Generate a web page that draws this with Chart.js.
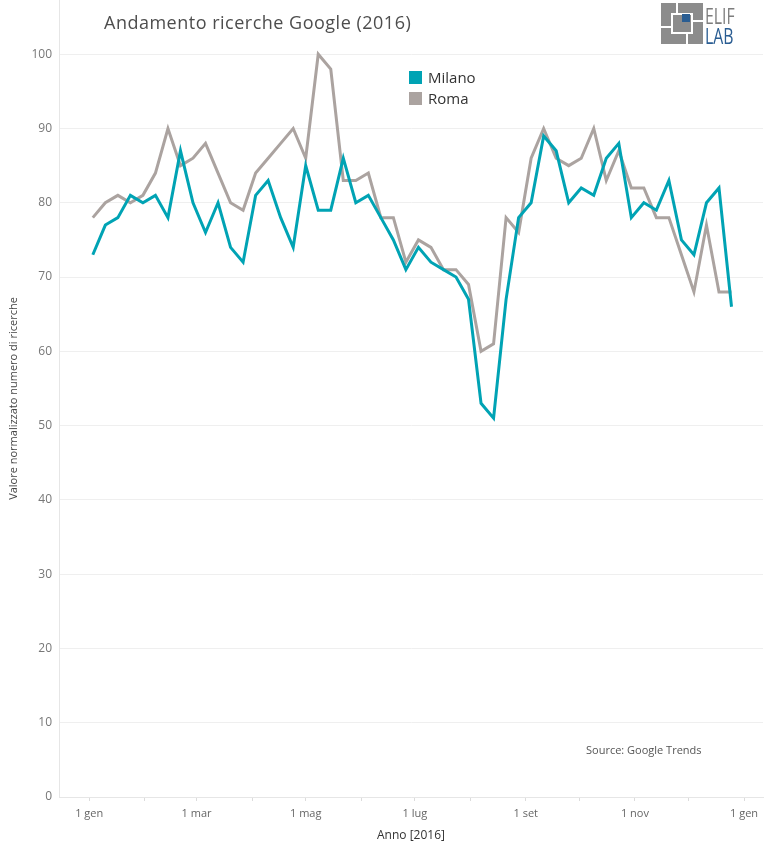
<!DOCTYPE html>
<html>
<head>
<meta charset="utf-8">
<script src="https://cdn.jsdelivr.net/npm/chart.js@4.4.0/dist/chart.umd.min.js"></script>
<style>
  html, body { margin: 0; padding: 0; background: #fff; }
  #wrap { position: relative; width: 766px; height: 852px; font-family: "Open Sans", sans-serif; }
  #chart { position: absolute; left: 0; top: 0; }
  .title { position: absolute; left: 104px; top: 9px; font-size: 18px; letter-spacing: 0.5px; line-height: 26px; color: #4d4d4d; white-space: nowrap; }
  .legend { position: absolute; left: 409px; top: 67px; }
  .legend .item { height: 21px; line-height: 21px; font-size: 15px; color: #333; white-space: nowrap; }
  .legend .sw { display: inline-block; width: 13px; height: 13px; vertical-align: -1px; margin-right: 6px; }
  .source { position: absolute; left: 586px; top: 742px; font-size: 11px; line-height: 16px; color: #555; white-space: nowrap; }
  .logo { position: absolute; left: 661px; top: 3px; width: 42px; height: 41px; background: #8c8c8c; }
  .logo div { position: absolute; background: #fff; }
  .logo .blue { background: #2a5d92; }
  .logo-t { position: absolute; left: 705px; font-size: 22px; line-height: 20px; transform-origin: left top; transform: scaleX(0.72); white-space: nowrap; }
</style>
</head>
<body>
<div id="wrap">
  <canvas id="chart" width="766" height="852"></canvas>
  <div class="title">Andamento ricerche Google (2016)</div>
  <div class="legend" id="legend"></div>
  <div class="source">Source: Google Trends</div>
  <div class="logo">
    <div style="left:10px;top:10px;width:22px;height:2px"></div>
    <div style="left:10px;top:29px;width:22px;height:2px"></div>
    <div style="left:10px;top:10px;width:2px;height:21px"></div>
    <div style="left:30px;top:10px;width:2px;height:21px"></div>
    <div style="left:15px;top:0;width:2px;height:10px"></div>
    <div style="left:32px;top:17px;width:10px;height:2px"></div>
    <div style="left:25px;top:31px;width:2px;height:10px"></div>
    <div style="left:0;top:23px;width:10px;height:2px"></div>
    <div class="blue" style="left:21px;top:11px;width:8px;height:8px"></div>
  </div>
  <div class="logo-t" style="top:5px;color:#7d7d7d">ELIF</div>
  <div class="logo-t" style="top:25px;color:#2a5d92">LAB</div>
</div>
<script>
// settimane (Google Trends, inizio settimana)
const weeks = [
  '2016-01-03', '2016-01-10', '2016-01-17', '2016-01-24', '2016-01-31',
  '2016-02-07', '2016-02-14', '2016-02-21', '2016-02-28',
  '2016-03-06', '2016-03-13', '2016-03-20', '2016-03-27',
  '2016-04-03', '2016-04-10', '2016-04-17', '2016-04-24',
  '2016-05-01', '2016-05-08', '2016-05-15', '2016-05-22', '2016-05-29',
  '2016-06-05', '2016-06-12', '2016-06-19', '2016-06-26',
  '2016-07-03', '2016-07-10', '2016-07-17', '2016-07-24', '2016-07-31',
  '2016-08-07', '2016-08-14', '2016-08-21', '2016-08-28',
  '2016-09-04', '2016-09-11', '2016-09-18', '2016-09-25',
  '2016-10-02', '2016-10-09', '2016-10-16', '2016-10-23', '2016-10-30',
  '2016-11-06', '2016-11-13', '2016-11-20', '2016-11-27',
  '2016-12-04', '2016-12-11', '2016-12-18', '2016-12-25'
];

const milano = [
  73, 77, 78, 81, 80, 81, 78, 87, 80, 76, 80, 74, 72,
  81, 83, 78, 74, 85, 79, 79, 86, 80, 81, 78, 75, 71,
  74, 72, 71, 70, 67, 53, 51, 67, 78, 80, 89, 87, 80,
  82, 81, 86, 88, 78, 80, 79, 83, 75, 73, 80, 82, 66
];

const roma = [
  78, 80, 81, 80, 81, 84, 90, 85, 86, 88, 84, 80, 79,
  84, 86, 88, 90, 86, 100, 98, 83, 83, 84, 78, 78, 72,
  75, 74, 71, 71, 69, 60, 61, 78, 76, 86, 90, 86, 85,
  86, 90, 83, 87, 82, 82, 78, 78, 73, 68, 77, 68, 68
];

const monthTicks = [
  '2016-01-01', '2016-02-01', '2016-03-01', '2016-04-01', '2016-05-01', '2016-06-01', '2016-07-01',
  '2016-08-01', '2016-09-01', '2016-10-01', '2016-11-01', '2016-12-01', '2017-01-01'
];
const monthLabels = ['1 gen', '', '1 mar', '', '1 mag', '', '1 lug', '', '1 set', '', '1 nov', '', '1 gen'];
const yTicks = [0, 10, 20, 30, 40, 50, 60, 70, 80, 90, 100];

const seriesNames = ['Milano', 'Roma'];
const seriesColors = ['#00a3b4', '#aba3a0'];

const fontFamily = '"Open Sans", sans-serif';

// giorno dell'anno 2016 (0 = 1 gen)
function dayOf(s) {
  const p = s.split('-').map(Number);
  return (Date.UTC(p[0], p[1] - 1, p[2]) - Date.UTC(2016, 0, 1)) / 86400000;
}

const datasets = [milano, roma].map((vals, k) => ({
  label: seriesNames[k],
  data: weeks.map((w, i) => ({ x: dayOf(w), y: vals[i] })),
  borderColor: seriesColors[k],
  backgroundColor: seriesColors[k],
  borderWidth: 3,
  pointRadius: 0,
  tension: 0,
  fill: false
}));

// legenda
const legendBox = document.getElementById('legend');
seriesNames.forEach((name, k) => {
  const item = document.createElement('div');
  item.className = 'item';
  const sw = document.createElement('span');
  sw.className = 'sw';
  sw.style.background = seriesColors[k];
  item.appendChild(sw);
  item.appendChild(document.createTextNode(name));
  legendBox.appendChild(item);
});

const ctx = document.getElementById('chart');
new Chart(ctx, {
  type: 'line',
  data: { datasets: datasets },
  options: {
    responsive: false,
    animation: false,
    layout: { padding: { left: 0, right: 3, top: 0, bottom: 0 } },
    plugins: {
      legend: { display: false },
      tooltip: { enabled: false }
    },
    scales: {
      x: {
        type: 'linear',
        min: -16.9,
        max: 376.6,
        afterBuildTicks: (s) => { s.ticks = monthTicks.map(d => ({ value: dayOf(d) })); },
        afterFit: (s) => { s.height = 55; s.paddingLeft = 0; s.paddingRight = 0; },
        ticks: {
          autoSkip: false,
          maxRotation: 0,
          padding: 6,
          color: '#666',
          font: { family: fontFamily, size: 11 },
          callback: (v, i) => monthLabels[i]
        },
        grid: { drawOnChartArea: false, drawTicks: true, tickLength: 4, color: '#dcdcdc' },
        border: { color: '#e6e6e6' },
        title: {
          display: true,
          text: 'Anno [2016]',
          color: '#333',
          font: { family: fontFamily, size: 12 },
          padding: { top: 0, bottom: 9 }
        }
      },
      y: {
        min: 0,
        max: 107.3,
        afterBuildTicks: (s) => { s.ticks = yTicks.map(v => ({ value: v })); },
        afterFit: (s) => { s.width = 59; s.paddingTop = 0; s.paddingBottom = 0; },
        ticks: {
          padding: 7,
          color: '#777',
          font: { family: fontFamily, size: 12 }
        },
        grid: { color: '#efefef', drawTicks: false },
        border: { color: '#e6e6e6' },
        title: {
          display: true,
          text: 'Valore normalizzato numero di ricerche',
          color: '#444',
          font: { family: fontFamily, size: 11 },
          padding: { top: 7.5, bottom: 0 }
        }
      }
    }
  }
});
</script>
</body>
</html>
